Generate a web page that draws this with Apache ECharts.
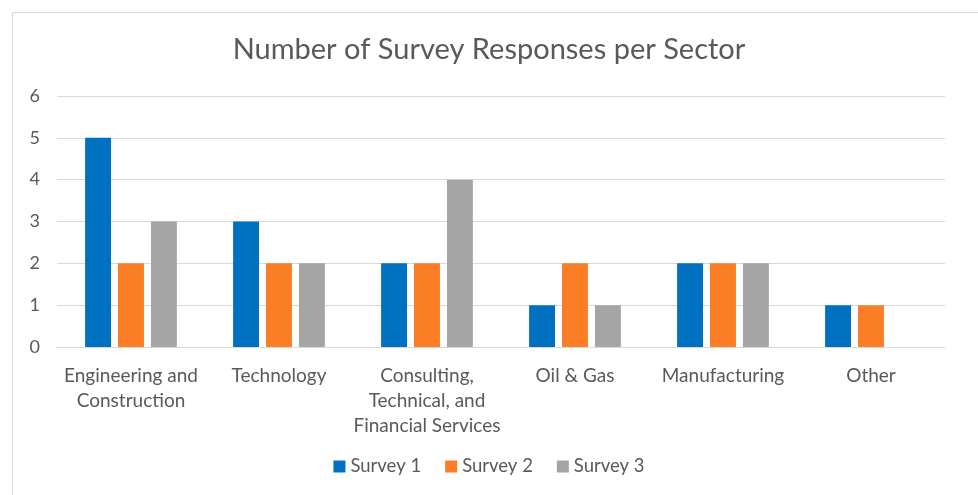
<!DOCTYPE html>
<html>
<head>
<meta charset="utf-8">
<script src="https://cdn.jsdelivr.net/npm/echarts@6/dist/echarts.min.js"></script>
<style>
  html, body { margin: 0; padding: 0; background: #fff; }
  #chart { width: 978px; height: 495px; }
</style>
</head>
<body>
<div id="chart"></div>
<script>
// sectors and responses per survey
const sectors = [
  'Engineering and\nConstruction',
  'Technology',
  'Consulting,\nTechnical, and\nFinancial Services',
  'Oil & Gas',
  'Manufacturing',
  'Other'
];
const survey1 = [5, 3, 2, 1, 2, 1];
const survey2 = [2, 2, 2, 2, 2, 1];
const survey3 = [3, 2, 4, 1, 2, 0];

const font = 'Lato, "Open Sans", sans-serif';
const textColor = '#595959';

const chart = echarts.init(document.getElementById('chart'));
chart.setOption({
  animation: false,
  textStyle: { fontFamily: font },
  title: {
    text: 'Number of Survey Responses per Sector',
    left: 'center',
    top: 30,
    textStyle: { fontFamily: font, fontSize: 29, fontWeight: 'normal', color: textColor }
  },
  graphic: [{
    type: 'rect',
    shape: { x: 12.5, y: 12.5, width: 990, height: 500 },
    style: { fill: 'none', stroke: '#d9d9d9', lineWidth: 1 },
    silent: true
  }],
  legend: {
    bottom: 14,
    left: 'center',
    itemWidth: 12,
    itemHeight: 12,
    itemGap: 24,
    icon: 'rect',
    textStyle: { fontFamily: font, fontSize: 18.5, color: textColor }
  },
  grid: { left: 57, right: 33, top: 96, bottom: 148 },
  xAxis: {
    type: 'category',
    data: sectors,
    axisLine: { lineStyle: { color: '#d9d9d9' } },
    axisTick: { show: false },
    axisLabel: { fontFamily: font, fontSize: 19, color: textColor, margin: 16, lineHeight: 25, interval: 0 }
  },
  yAxis: {
    type: 'value',
    min: 0,
    max: 6,
    interval: 1,
    axisLine: { show: false },
    axisTick: { show: false },
    axisLabel: { fontFamily: font, fontSize: 18, color: textColor, margin: 17 },
    splitLine: { lineStyle: { color: '#d9d9d9' } }
  },
  series: [
    { name: 'Survey 1', type: 'bar', data: survey1, itemStyle: { color: '#0070c0' }, barGap: '27%', barCategoryGap: '38%' },
    { name: 'Survey 2', type: 'bar', data: survey2, itemStyle: { color: '#fb7d25' } },
    { name: 'Survey 3', type: 'bar', data: survey3, itemStyle: { color: '#a5a5a5' } }
  ]
});
</script>
</body>
</html>
